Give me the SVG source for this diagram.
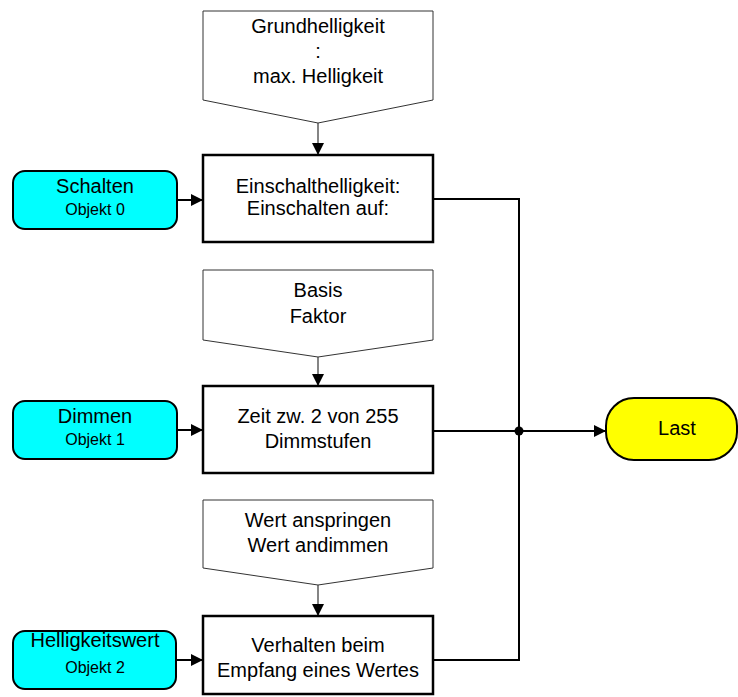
<svg xmlns="http://www.w3.org/2000/svg" width="738" height="697" viewBox="0 0 738 697">
<style>
text{font-family:"Liberation Sans",Arial,sans-serif;fill:#000;text-anchor:middle}
.t{font-size:20px}
.s{font-size:16px}
.pent{fill:#fff;stroke:#333;stroke-width:1}
.box{fill:#fff;stroke:#000;stroke-width:2.5}
.obj{fill:#00ffff;stroke:#000;stroke-width:2}
.last{fill:#ffff00;stroke:#000;stroke-width:2}
.thin{stroke:#333;stroke-width:1.2;fill:none}
.wire{stroke:#000;stroke-width:2;fill:none}
</style>
<defs>
<marker id="ah" viewBox="0 0 12 12" refX="12" refY="6" markerWidth="12" markerHeight="12" markerUnits="userSpaceOnUse" orient="auto">
<path d="M0,0 L12,6 L0,12 Z" fill="#000"/>
</marker>
</defs>
<g id="connectors">
<line class="thin" x1="318" y1="123" x2="318" y2="155" marker-end="url(#ah)"/>
<line class="thin" x1="318" y1="357" x2="318" y2="386" marker-end="url(#ah)"/>
<line class="thin" x1="318" y1="585" x2="318" y2="616" marker-end="url(#ah)"/>
<line class="wire" x1="177" y1="200" x2="203" y2="200" marker-end="url(#ah)"/>
<line class="wire" x1="177" y1="430" x2="203" y2="430" marker-end="url(#ah)"/>
<line class="wire" x1="176" y1="660" x2="203" y2="660" marker-end="url(#ah)"/>
<polyline class="wire" points="433,199 519,199 519,660 433,660"/>
<line class="wire" x1="433" y1="431" x2="606" y2="431" marker-end="url(#ah)"/>
<circle cx="519" cy="431" r="4.5" fill="#000"/>
</g>
<g id="p1">
<polygon class="pent" points="203,11 433,11 433,100 318,123 203,100"/>
<text class="t" x="318" y="33">Grundhelligkeit</text>
<text class="t" x="318" y="58">:</text>
<text class="t" x="318" y="83">max. Helligkeit</text>
</g>
<g id="b1">
<rect class="box" x="203" y="155" width="230" height="87"/>
<text class="t" x="318" y="193">Einschalthelligkeit:</text>
<text class="t" x="318" y="215">Einschalten auf:</text>
</g>
<g id="schalten">
<rect class="obj" x="13" y="171" width="164" height="58" rx="12"/>
<text class="t" x="95" y="193">Schalten</text>
<text class="s" x="95" y="215">Objekt 0</text>
</g>
<g id="p2">
<polygon class="pent" points="203,270 433,270 433,340 318,357 203,340"/>
<text class="t" x="318" y="297">Basis</text>
<text class="t" x="318" y="323">Faktor</text>
</g>
<g id="b2">
<rect class="box" x="203" y="386" width="230" height="87"/>
<text class="t" x="318" y="423">Zeit zw. 2 von 255</text>
<text class="t" x="318" y="448">Dimmstufen</text>
</g>
<g id="dimmen">
<rect class="obj" x="13" y="401" width="164" height="58" rx="12"/>
<text class="t" x="95" y="423">Dimmen</text>
<text class="s" x="95" y="445">Objekt 1</text>
</g>
<g id="p3">
<polygon class="pent" points="203,500 433,500 433,568 318,585 203,568"/>
<text class="t" x="318" y="527">Wert anspringen</text>
<text class="t" x="318" y="552">Wert andimmen</text>
</g>
<g id="b3">
<rect class="box" x="203" y="616" width="230" height="78"/>
<text class="t" x="318" y="652">Verhalten beim</text>
<text class="t" x="318" y="677">Empfang eines Wertes</text>
</g>
<g id="helligkeitswert">
<rect class="obj" x="13" y="631" width="163" height="58" rx="12"/>
<text class="t" x="95" y="647">Helligkeitswert</text>
<text class="s" x="95" y="673">Objekt 2</text>
</g>
<g id="last">
<rect class="last" x="606" y="398" width="131" height="62" rx="28"/>
<text class="t" x="677" y="435">Last</text>
</g>
</svg>
